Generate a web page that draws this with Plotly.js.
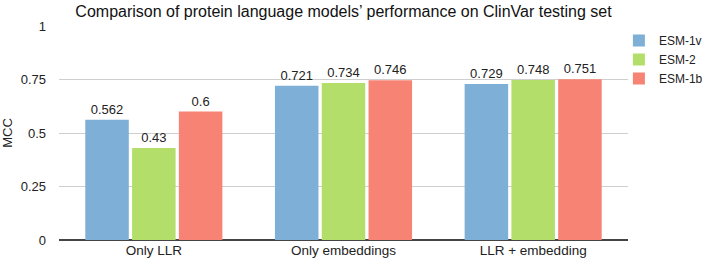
<!DOCTYPE html>
<html>
<head>
<meta charset="utf-8">
<script src="https://cdn.plot.ly/plotly-3.0.1.min.js"></script>
<style>
  html, body { margin: 0; padding: 0; background: #fff; }
  #chart { width: 708px; height: 262px; }
</style>
</head>
<body>
<div id="chart"></div>
<script>
// Feature settings compared on the ClinVar testing set
const categories = ["Only LLR", "Only embeddings", "LLR + embedding"];

// MCC per model
const esm1v = [0.562, 0.721, 0.729];
const esm2  = [0.43, 0.734, 0.748];
const esm1b = [0.6, 0.746, 0.751];

const yTicks = [0, 0.25, 0.5, 0.75, 1];
const yTickLabels = ["0", "0.25", "0.5", "0.75", "1"];

const font = "Liberation Sans, Arial, Helvetica, sans-serif";

function series(name, values, color) {
  return {
    type: "bar",
    name: name,
    x: categories,
    y: values,
    text: values.map(v => String(v)),
    textposition: "outside",
    textfont: { family: font, size: 13, color: "#222" },
    cliponaxis: false,
    marker: { color: color, line: { width: 0 } },
    hoverinfo: "x+y+name"
  };
}

const data = [
  series("ESM-1v", esm1v, "#7eafd6"),
  series("ESM-2", esm2, "#b4de6a"),
  series("ESM-1b", esm1b, "#f78374")
];

const layout = {
  width: 708,
  height: 262,
  margin: { l: 59, r: 80, t: 26, b: 22, autoexpand: false },
  paper_bgcolor: "#fff",
  plot_bgcolor: "#fff",
  font: { family: font, size: 13, color: "#222" },
  title: {
    text: "Comparison of protein language models’ performance on ClinVar testing set",
    font: { family: font, size: 16, color: "#111" },
    x: 0.5,
    xref: "paper",
    y: 0.955,
    yanchor: "middle"
  },
  barmode: "group",
  bargap: 0.26,
  bargroupgap: 0.07,
  xaxis: {
    range: [-0.5, 2.5],
    showgrid: false,
    showline: false,
    ticks: "",
    tickfont: { family: font, size: 13.5, color: "#222" },
    zeroline: false
  },
  yaxis: {
    range: [0, 1],
    tickvals: yTicks,
    ticktext: yTickLabels,
    showgrid: true,
    gridcolor: "#cfcfcf",
    gridwidth: 1,
    zeroline: true,
    zerolinecolor: "#444",
    zerolinewidth: 1.2,
    ticks: "",
    ticklabelstandoff: 12,
    tickfont: { family: font, size: 13, color: "#222" },
    title: { text: "MCC", font: { family: font, size: 13, color: "#222" }, standoff: 10 }
  },
  legend: {
    x: 0.984,
    xanchor: "left",
    y: 1.0,
    yanchor: "top",
    font: { family: font, size: 12, color: "#222" },
    itemwidth: 30,
    tracegroupgap: 0,
    bgcolor: "rgba(0,0,0,0)"
  },
  showlegend: true
};

Plotly.newPlot("chart", data, layout, { displayModeBar: false, staticPlot: true });
</script>
</body>
</html>
